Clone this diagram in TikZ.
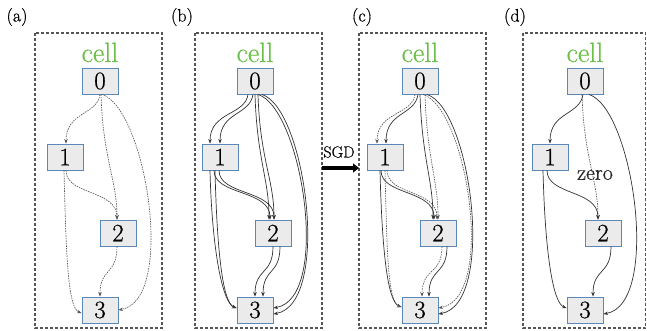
\documentclass[tikz,border=0pt]{standalone}
\usepackage{fontspec}
\setmainfont{Latin Modern Roman}[FakeBold=0.6]
\usetikzlibrary{arrows.meta}
\definecolor{nodeblue}{HTML}{5B87B9}
\definecolor{nodefill}{HTML}{EBEBEB}
\definecolor{cellgreen}{HTML}{6CBF4A}
\definecolor{edgec}{HTML}{333333}
\definecolor{dotc}{HTML}{555555}
\definecolor{boxc}{HTML}{555555}
\tikzset{
 opnode/.style={draw=nodeblue, fill=nodefill, line width=0.9pt, minimum width=36pt, minimum height=26pt, inner sep=0pt, font=\fontsize{25}{25}\selectfont},
 celltext/.style={text=cellgreen, font=\fontsize{28}{28}\selectfont, anchor=base, inner sep=0pt},
 panellabel/.style={font=\fontsize{18}{18}\selectfont, inner sep=0pt},
 cellbox/.style={draw=boxc, line width=1.1pt, dash pattern=on 3pt off 2pt},
 soled/.style={draw=edgec, line width=0.7pt, -{Stealth[length=4.5pt,width=3.5pt]}},
 doted/.style={draw=dotc, line width=0.65pt, dash pattern=on 1.5pt off 1pt, -{Stealth[length=4.5pt,width=3.5pt]}},
}
\newcommand\panelnodes[2]{%
 \node[celltext] (#1cell) at (#2+100,62) {cell};
 \node[opnode] (#10) at (#2+100,81) {0};
 \node[opnode] (#11) at (#2+65,157) {1};
 \node[opnode] (#12) at (#2+118,233) {2};
 \node[opnode] (#13) at (#2+100,310) {3};
}
\newcommand\eZO[4]{\draw[#1] ([shift={(#3,0)}]#20.south) .. controls +(-3,21) and +(0,-32) .. ([shift={(#4,0)}]#21.north);}
\newcommand\eZT[4]{\draw[#1] ([shift={(#3,0)}]#20.south) .. controls +(2,65) and +(0,-40) .. ([shift={(#4,0)}]#22.north);}
\newcommand\eZH[4]{\draw[#1] ([shift={(#3,0)}]#20.south) .. controls +(44,14) and +(58,-10) .. ([shift={(0,#4)}]#23.east);}
\newcommand\eOT[4]{\draw[#1] ([shift={(#3,0)}]#21.south) .. controls +(0,25) and +(0,-30) .. ([shift={(#4,0)}]#22.north);}
\newcommand\eOH[4]{\draw[#1] ([shift={(#3,0)}]#21.south) .. controls +(2,80) and +(-14,-5) .. ([shift={(0,#4)}]#23.west);}
\newcommand\eTH[4]{\draw[#1] ([shift={(#3,0)}]#22.south) .. controls +(0,29) and +(0,-29) .. ([shift={(#4,0)}]#23.north);}
\begin{document}
\begin{tikzpicture}[x=1pt,y=-1pt]
\useasboundingbox (0,0) rectangle (647,331);
% panel boxes
\draw[cellbox] (35,33) rectangle (162,328);
\draw[cellbox] (195,33) rectangle (322,328);
\draw[cellbox] (359,33) rectangle (486,328);
\draw[cellbox] (523,33) rectangle (645.5,328);
% labels
\node[panellabel] (la) at (17,17) {(a)};
\node[panellabel] (lb) at (182,17) {(b)};
\node[panellabel] (lc) at (362,17) {(c)};
\node[panellabel] (ld) at (515,17) {(d)};
% nodes
\panelnodes{a}{0}
\panelnodes{b}{155}
\panelnodes{c}{320}
\panelnodes{d}{485}
% (a)
\eZO{doted}{a}{0}{1}
\eZT{doted}{a}{1}{-1}
\eZH{doted}{a}{2}{0}
\eOT{doted}{a}{1}{-1}
\eOH{doted}{a}{-1}{3}
\eTH{doted}{a}{-1}{0}
% (b)
\eZO{soled}{b}{-7}{-10}
\eZO{soled}{b}{-2}{0}
\eZT{soled}{b}{0}{-4}
\eZT{soled}{b}{3}{1}
\eZH{soled}{b}{3}{-2}
\eZH{soled}{b}{7}{4}
\eOT{soled}{b}{-6}{-3}
\eOT{soled}{b}{-1}{1}
\eOH{soled}{b}{-10}{-2}
\eOH{soled}{b}{-5}{-2}
\eTH{soled}{b}{0}{0}
\eTH{soled}{b}{7}{8}
% (c)
\eZO{doted}{c}{-5}{-8}
\eZO{soled}{c}{-2}{1}
\eZT{soled}{c}{0}{-5}
\eZT{doted}{c}{5}{0}
\eZH{doted}{c}{3}{-2}
\eZH{soled}{c}{7}{4}
\eOT{soled}{c}{-4}{-4}
\eOT{doted}{c}{2}{-1}
\eOH{soled}{c}{-5}{-3}
\eOH{doted}{c}{0}{-3}
\eTH{doted}{c}{4}{2}
\eTH{soled}{c}{9}{9}
% (d)
\eZO{soled}{d}{-2}{0}
\eZT{doted}{d}{-3}{-5}
\eZH{soled}{d}{4}{4}
\eOT{soled}{d}{-3}{-5}
\eOH{soled}{d}{-7}{-2}
\eTH{soled}{d}{8}{8}
\node[font=\fontsize{22}{22}\selectfont, text=black!85, inner sep=0pt] (dzero) at (595,175) {zero};
% SGD arrow
\coordinate (sgdL) at (322,168);
\coordinate (sgdR) at (359,168);
\node[font=\fontsize{16}{16}\selectfont, inner sep=0pt] (sgd) at (339,152) {SGD};
\draw[line width=3.5pt, -{Triangle[length=6pt,width=9pt]}] (sgdL) -- (sgdR);
\end{tikzpicture}
\end{document}
